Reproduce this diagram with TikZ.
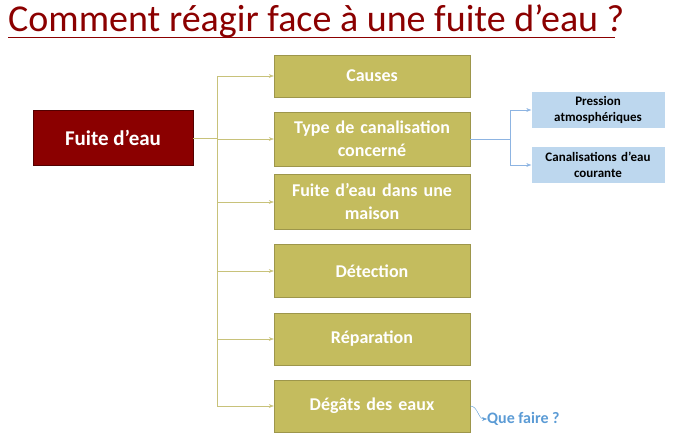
\documentclass[tikz,border=0pt]{standalone}
\usepackage{fontspec}
\setmainfont{Carlito}
\usetikzlibrary{arrows.meta}
\definecolor{dred}{HTML}{8B0000}
\definecolor{olive}{HTML}{C4BC5E}
\definecolor{oline}{HTML}{C8C27A}
\definecolor{lblue}{HTML}{BDD7EE}
\definecolor{bline}{HTML}{8DB4E2}
\definecolor{qblue}{HTML}{5B9BD5}
\begin{document}
\begin{tikzpicture}[x=1pt,y=-1pt,
 gbox/.style={fill=olive,draw=olive!80!black,minimum width=196pt,text width=190pt,align=center,text=white,font=\bfseries\fontsize{18}{23}\selectfont,inner sep=2pt},
 bbox/.style={fill=lblue,minimum width=133pt,minimum height=36pt,text width=130pt,align=center,font=\bfseries\fontsize{13}{16}\selectfont,inner sep=1pt},
 oarr/.style={draw=oline,-{Stealth[length=5pt]}},
 barr/.style={draw=bline,-{Stealth[length=5pt]}}]
\useasboundingbox (0,0) rectangle (676,444);
\node[anchor=base west,text=dred,font=\fontsize{38}{44}\selectfont,inner sep=0] (title) at (8,31) {Comment réagir face à une fuite d’eau ?};
\draw[dred,line width=1pt] (8,38) -- (615,38);
\node[fill=dred,draw=dred!60!black,minimum width=160pt,minimum height=55pt,text=white,font=\bfseries\fontsize{21}{24}\selectfont] (main) at (113,138) {Fuite d’eau};
\node[gbox,minimum height=42pt] (c1) at (372,76) {Causes};
\node[gbox,minimum height=54pt] (c2) at (372,139) {Type de canalisation\\concerné};
\node[gbox,minimum height=55pt] (c3) at (372,202) {Fuite d’eau dans une\\maison};
\node[gbox,minimum height=53pt] (c4) at (372,271) {Détection};
\node[gbox,minimum height=52pt] (c5) at (372,339) {Réparation};
\node[gbox,minimum height=52pt] (c6) at (372,406) {Dégâts des eaux};
\coordinate (t) at (217,76);
\coordinate (b) at (217,406);
\draw[oline] (main.east) -- (217,138);
\draw[oline] (t) -- (b);
\foreach \n in {c1,c2,c3,c4,c5,c6} \draw[oarr] (217,0 |- \n.west) -- (\n.west);
\node[bbox] (p) at (598,110) {Pression\\atmosphériques};
\node[bbox] (q) at (598,165) {Canalisations d’eau\\courante};
\draw[bline] (c2.east) -- (510,139);
\draw[bline] (510,110) -- (510,165);
\draw[barr] (510,110) -- (p.west);
\draw[barr] (510,165) -- (q.west);
\node[anchor=west,text=qblue,font=\bfseries\fontsize{16}{18}\selectfont,inner sep=0] (qf) at (487,419) {Que faire ?};
\draw[qblue,-{Stealth[length=5pt]}] (c6.east) .. controls (478,406) and (478,419) .. (qf.west);
\end{tikzpicture}
\end{document}
